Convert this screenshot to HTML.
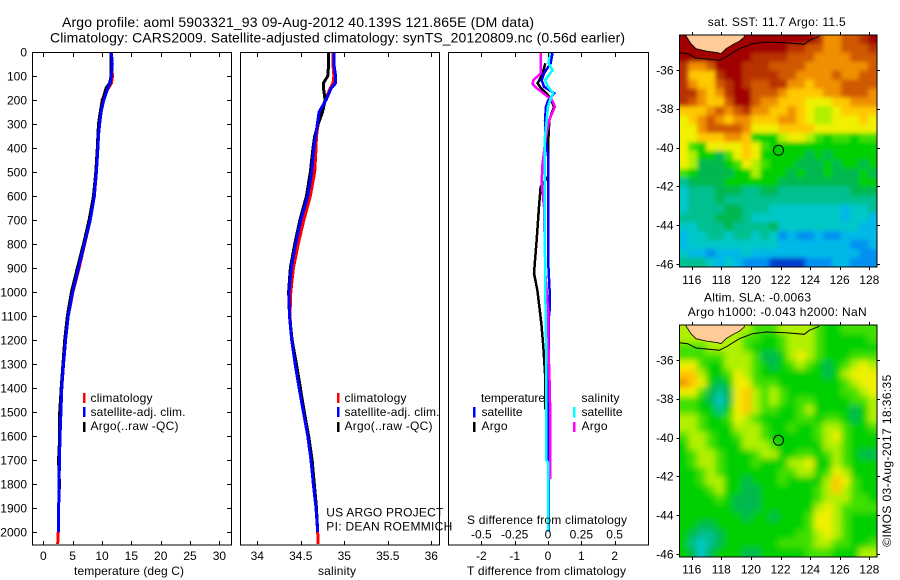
<!DOCTYPE html>
<html lang="en">
<head>
<meta charset="utf-8">
<title>Argo profile 5903321_93</title>
<style>
html,body{margin:0;padding:0;background:#fff;}
svg{display:block;}
text{font-family:"Liberation Sans",sans-serif;font-size:12px;fill:#000;}
</style>
</head>
<body>
<svg id="chart" xmlns="http://www.w3.org/2000/svg" width="900" height="580" viewBox="0 0 900 580">
<defs>
<clipPath id="clip-sst"><rect x="679.5" y="35" width="197.5" height="232"/></clipPath>
<clipPath id="clip-sla"><rect x="679.5" y="325" width="197.5" height="232"/></clipPath>
<filter id="soft-sst" filterUnits="userSpaceOnUse" x="640" y="0" width="260" height="300"><feGaussianBlur stdDeviation="2.2"/></filter>
<filter id="soft-sla" filterUnits="userSpaceOnUse" x="640" y="290" width="260" height="300"><feGaussianBlur stdDeviation="3.2"/></filter>
</defs>
<rect x="0" y="0" width="900" height="580" fill="#fff"/>

<text x="62" y="27" style="font-size:14px" textLength="472" lengthAdjust="spacing">Argo profile: aoml 5903321_93 09-Aug-2012 40.139S 121.865E (DM data)</text>
<text x="50" y="42.5" style="font-size:14px" textLength="575" lengthAdjust="spacing">Climatology: CARS2009. Satellite-adjusted climatology: synTS_20120809.nc (0.56d earlier)</text>

<g id="panels"></g>

<text x="74" y="575" textLength="110" lengthAdjust="spacing">temperature (deg C)</text>
<text x="318" y="575" textLength="38" lengthAdjust="spacing">salinity</text>
<text x="467" y="524" textLength="160" lengthAdjust="spacing">S difference from climatology</text>
<text x="467" y="575" textLength="159" lengthAdjust="spacing">T difference from climatology</text>

<g>
<rect x="83" y="393" width="2.5" height="10" fill="#ff0000"/>
<rect x="83" y="407" width="2.5" height="10" fill="#0000ff"/>
<rect x="83" y="422" width="2.5" height="10" fill="#000"/>
<text x="90.5" y="402" textLength="62" lengthAdjust="spacing">climatology</text>
<text x="90.5" y="416" textLength="95" lengthAdjust="spacing">satellite-adj. clim.</text>
<text x="90.5" y="430" textLength="88" lengthAdjust="spacing">Argo(..raw -QC)</text>
</g>
<g>
<rect x="337" y="393" width="2.5" height="10" fill="#ff0000"/>
<rect x="337" y="407" width="2.5" height="10" fill="#0000ff"/>
<rect x="337" y="422" width="2.5" height="10" fill="#000"/>
<text x="344.5" y="402" textLength="62" lengthAdjust="spacing">climatology</text>
<text x="344.5" y="416" textLength="95" lengthAdjust="spacing">satellite-adj. clim.</text>
<text x="344.5" y="430" textLength="88" lengthAdjust="spacing">Argo(..raw -QC)</text>
</g>
<g>
<text x="481" y="402" textLength="64" lengthAdjust="spacing">temperature</text>
<text x="581.5" y="402" textLength="38" lengthAdjust="spacing">salinity</text>
<rect x="473" y="407" width="2.5" height="10.5" fill="#0000ff"/>
<rect x="473" y="422" width="2.5" height="10" fill="#000"/>
<rect x="573" y="407" width="2.5" height="10.5" fill="#00ffff"/>
<rect x="573" y="422" width="2.5" height="10" fill="#ff00ff"/>
<text x="481.5" y="416" textLength="41" lengthAdjust="spacing">satellite</text>
<text x="481.5" y="430" textLength="26" lengthAdjust="spacing">Argo</text>
<text x="581.5" y="416" textLength="41" lengthAdjust="spacing">satellite</text>
<text x="581.5" y="430" textLength="26" lengthAdjust="spacing">Argo</text>
</g>
<text x="326.3" y="516.5" textLength="117" lengthAdjust="spacing">US ARGO PROJECT</text>
<text x="326.3" y="530.5" textLength="126" lengthAdjust="spacing">PI: DEAN ROEMMICH</text>

<g id="maps"></g>

<text x="707.7" y="26" textLength="138" lengthAdjust="spacing">sat. SST: 11.7 Argo: 11.5</text>
<text x="704" y="301.5" textLength="107" lengthAdjust="spacing">Altim. SLA: -0.0063</text>
<text x="687.7" y="316" textLength="179" lengthAdjust="spacing">Argo h1000: -0.043 h2000: NaN</text>
<text transform="translate(891 546.7) rotate(-90)" textLength="172" lengthAdjust="spacing">©IMOS 03-Aug-2017 18:36:35</text>
</svg>

<script>
// ---- profile data ----
const profileDepths = [0,50,100,130,150,200,250,300,350,400,500,600,700,800,900,1000,1100,1200,1300,1400,1500,1600,1700,1800,1900,2000,2050];
const tempClim = [11.6,11.6,11.8,11.6,11.1,10.0,9.8,9.6,9.4,9.3,9.05,8.7,8.0,7.05,6.1,5.05,4.25,3.8,3.45,3.15,3.0,2.85,2.75,2.68,2.62,2.55,2.45];
const tempSat = [11.6,11.75,11.6,11.4,11.0,10.3,9.85,9.6,9.4,9.3,9.05,8.7,8.0,7.0,6.0,5.0,4.25,3.8,3.45,3.15,3.0,2.85,2.75,2.68,2.62,2.55,null];
const tempArgo = [11.55,11.55,11.55,11.3,10.7,10.1,9.7,9.4,9.3,9.2,8.95,8.55,7.8,6.85,5.8,4.8,4.1,3.65,3.35,3.05,2.8,2.8,2.6,2.75,2.6,2.55,null];
const salClim = [34.87,34.87,34.88,34.87,34.84,34.78,34.73,34.70,34.68,34.675,34.66,34.61,34.535,34.47,34.415,34.385,34.375,34.395,34.435,34.48,34.53,34.58,34.617,34.644,34.675,34.694,34.70];
const salSat = [34.88,34.88,34.90,34.90,34.85,34.79,34.71,34.69,34.67,34.65,34.625,34.58,34.50,34.44,34.39,34.365,34.37,34.395,34.435,34.48,34.53,34.58,34.617,34.644,34.675,34.694,null];
const salArgo = [34.82,34.82,34.81,34.76,34.76,34.78,34.75,34.70,34.66,34.64,34.61,34.565,34.49,34.43,34.38,34.36,34.37,34.40,34.45,34.495,34.54,34.59,34.63,34.655,34.68,34.694,null];

const diffTDepths = [0,47,89,117,145,172,200,228,283,350,400,450,900,1000,1060,1100,1400,2000];
const diffTSat = [0.14,0.08,-0.12,-0.19,-0.12,0.19,0.01,-0.06,-0.09,-0.08,-0.03,0.015,0.015,0.05,0.06,0.03,0.0,0.03];
const diffArgoDepths = [47,89,130,145,172,190,228,283,367,520,561,645,783,922,992,1061,1131,1228,1339,1490];
const diffTArgo = [-0.08,-0.16,-0.31,-0.24,-0.05,0.06,0.18,0.04,0.01,0.0,-0.22,-0.27,-0.34,-0.42,-0.32,-0.26,-0.20,-0.14,-0.09,-0.08];
const diffSArgoDepths = [0,47,89,117,133,150,172,200,228,250,283,367,478,547,645,783,922,1089,1228,1339,1450,1780];
const diffSArgo = [-0.053,-0.053,-0.053,-0.11,-0.115,-0.085,-0.035,0.03,0.052,0.035,0.01,-0.02,-0.043,-0.047,-0.03,-0.025,-0.02,0.003,0.003,0.01,0.015,0.017];
const diffSSatDepths = [0,47,75,100,117,145,172,200,228,283,367,700,1000,1300,1700,1710,2000];
const diffSSat = [0.015,0.003,0.035,0.003,-0.022,0,0.04,0.015,0,-0.01,-0.025,-0.025,-0.02,-0.012,-0.012,0,0];

// ---- axis tick labels ----
const depthTicks = [0,100,200,300,400,500,600,700,800,900,1000,1100,1200,1300,1400,1500,1600,1700,1800,1900,2000];
const tempTicks = [0,5,10,15,20,25,30];
const salTicks = [34,34.5,35,35.5,36];
const diffTTicks = [-2,-1,0,1,2];
const diffSTicks = [-0.5,-0.25,0,0.25,0.5];
const lonTicks = [116,118,120,122,124,126,128];
const latTicks = [-36,-38,-40,-42,-44,-46];
const floatLon = [121.865];
const floatLat = [-40.139];

// ---- map cell values (colour-level index, north to south) ----
const sstLevels = [
[14,14,14,14,14,14,14,14,14,14,14,14,14,14,14,13,11,11,12,12,13,14],
[14,14,14,14,14,14,14,14,14,14,14,14,13,13,12,12,11,11,12,12,12,13],
[14,14,14,14,14,14,14,14,13,13,13,13,12,12,12,11,11,11,11,12,12,12],
[13,11,11,12,14,14,14,13,13,13,12,12,12,12,11,11,11,11,11,11,11,12],
[13,10,10,10,13,14,14,13,13,13,13,12,12,11,11,11,11,12,11,11,12,12],
[13,11,10,10,12,13,14,13,12,12,13,13,11,11,10,11,11,11,12,12,12,12],
[13,13,11,10,11,13,14,14,12,12,12,11,10,10,10,10,11,11,12,12,12,11],
[13,12,11,10,10,12,14,14,12,11,11,10,10,10,9,9,9,10,10,11,11,11],
[10,10,10,11,12,11,12,13,11,11,10,10,11,10,9,8,8,9,10,10,10,10],
[9,10,11,12,11,10,11,11,10,10,10,11,11,10,9,8,8,9,9,9,10,9],
[9,9,11,12,12,12,12,11,9,9,9,10,10,10,10,9,9,9,9,9,9,9],
[9,9,10,10,10,11,11,10,6,6,6,8,9,9,8,7,6,7,7,6,7,7],
[9,7,6,9,9,9,9,10,9,7,6,6,6,6,6,6,6,6,6,6,6,6],
[9,8,6,6,5,7,9,10,9,6,6,6,6,6,5,6,5,6,6,6,6,6],
[9,8,5,5,5,6,7,9,8,7,6,6,6,5,5,5,6,5,6,6,5,6],
[7,6,5,5,5,5,6,6,8,6,6,6,5,6,5,5,6,5,5,5,6,5],
[4,5,5,5,5,6,6,6,6,6,6,5,5,5,5,5,5,5,5,5,6,6],
[3,4,4,4,5,5,5,4,4,5,5,4,4,4,4,4,4,4,4,5,5,5],
[3,4,4,4,5,4,4,4,4,4,4,4,4,4,4,4,4,4,4,4,4,4],
[3,4,4,4,4,5,5,4,4,4,3,3,3,3,3,3,3,3,2,3,3,4],
[4,4,4,4,5,5,5,4,3,3,3,3,3,3,3,3,3,3,2,3,3,2],
[3,3,4,4,4,5,4,4,4,4,5,3,3,3,3,3,3,3,3,3,2,2],
[2,3,3,4,4,3,4,4,3,4,3,1,2,1,1,2,1,1,2,2,2,2],
[2,3,3,3,3,3,3,3,3,3,3,2,2,2,2,2,2,2,2,1,1,2],
[3,2,2,1,2,2,2,3,2,2,2,2,2,2,2,2,2,2,2,2,1,1],
[4,4,4,3,2,3,2,1,1,1,0,0,0,0,1,1,1,2,2,1,1,1]
];
const slaLevels = [
[8,8,8,8,8,8,8,8,7,7,7,8,8,8,8,7,6,6,7,7,7,7],
[8,8,8,8,8,8,8,7,7,6,6,7,8,8,8,7,6,6,6,6,6,7],
[7,7,7,8,8,8,8,7,6,6,6,7,8,8,8,7,6,6,6,6,6,6],
[7,7,7,7,7,8,8,8,7,5,5,6,8,9,8,7,6,6,6,7,7,7],
[9,9,7,6,6,8,8,8,7,6,5,6,7,8,7,6,5,6,7,8,9,8],
[10,10,8,6,6,7,9,8,7,6,6,6,6,6,6,6,5,6,8,9,9,9],
[11,10,9,6,5,6,9,9,7,7,7,6,6,6,6,6,6,6,7,8,9,9],
[9,9,7,5,4,5,9,10,8,7,8,7,6,6,6,6,6,6,7,7,8,9],
[7,7,6,5,3,5,9,10,8,7,8,7,6,7,7,6,6,6,6,7,7,8],
[7,7,6,6,4,6,9,10,8,7,7,6,6,7,8,6,6,6,6,5,6,8],
[8,8,7,6,6,7,9,8,7,6,6,6,6,7,7,6,7,7,6,5,6,8],
[8,8,7,6,6,6,8,8,8,7,6,6,7,6,6,7,8,8,7,6,6,7],
[7,8,8,7,6,6,7,8,8,7,6,6,6,6,6,7,8,9,7,6,6,6],
[6,8,8,7,6,6,6,8,8,8,7,6,6,6,6,6,8,8,7,6,6,6],
[6,7,8,8,7,6,6,6,7,8,8,6,6,7,7,6,7,8,7,6,5,5],
[6,7,8,8,7,6,6,6,7,6,6,6,8,8,9,6,6,8,7,6,6,6],
[6,6,7,8,7,6,6,6,6,6,6,7,7,8,8,6,7,9,8,6,6,6],
[6,6,7,8,8,6,6,5,6,6,6,7,6,6,6,6,8,10,9,7,6,6],
[6,6,6,7,8,6,6,5,5,6,6,6,6,6,6,7,8,10,8,7,6,6],
[6,6,6,6,7,6,5,5,5,6,6,6,6,6,6,7,8,8,8,7,7,6],
[6,6,6,6,6,6,5,5,5,6,6,6,6,6,6,8,9,8,7,7,7,7],
[6,6,6,6,6,6,6,5,6,6,5,6,6,6,7,9,9,8,7,6,6,6],
[6,6,5,5,6,6,6,6,6,6,6,6,6,6,7,9,9,8,7,6,6,6],
[6,5,4,4,5,6,6,6,6,6,6,6,6,7,7,8,9,8,7,6,6,6],
[6,4,3,4,5,6,6,6,6,6,6,7,7,7,7,8,8,7,7,6,6,7],
[6,5,3,5,6,6,6,5,5,6,6,6,6,6,7,7,7,6,6,6,8,8]
];
const levelColors = ['#0040d0','#0090f0','#00b8e8','#00c8c8','#00c090','#00b850','#00d000','#40e000','#b0f000','#f0f000','#ffc800','#f09000','#d05800','#b83000','#a00000'];

// ---- axis functions ----
const SVGNS = 'http://www.w3.org/2000/svg';
const depthY = d => 52 + d * 0.24;
const tempX = t => 43.3 + t * 5.87;
const salX = s => 257.3 + (s - 34) * 87;
const diffTX = t => 548 + t * 33.33;
const diffSX = s => 548 + s * 133.3;
const lonX = lon => 691.7 + (lon - 116) * 14.8;
const latY = (lat, off) => 70 + (-36 - lat) * 19.4 + off;

function make(tag, attrs, parent) {
  const el = document.createElementNS(SVGNS, tag);
  for (const k in attrs) el.setAttribute(k, attrs[k]);
  parent.appendChild(el);
  return el;
}
function label(str, x, y, anchor, parent) {
  const el = make('text', {x: x, y: y, 'text-anchor': anchor}, parent);
  el.textContent = str;
  return el;
}
function pathFrom(xs, ys) {
  const pts = [];
  xs.forEach((v, i) => { if (v !== null) pts.push(v + ',' + ys[i]); });
  return pts.join(' ');
}

const panels = document.getElementById('panels');
const maps = document.getElementById('maps');

// ---- profile panel series ----
function series(name, depths, values, xFn, color, width) {
  const xs = values.map(v => v === null ? null : xFn(v));
  const ys = depths.map(depthY);
  const line = make('polyline', {points: pathFrom(xs, ys), fill: 'none', stroke: color, 'stroke-width': width, 'stroke-linejoin': 'miter', 'shape-rendering': 'crispEdges'}, panels);
  
  
}
series('temperature-climatology-line', profileDepths, tempClim, tempX, '#ff0000', 3);
series('temperature-argo-line', profileDepths, tempArgo, tempX, '#000000', 3);
series('temperature-satellite-line', profileDepths, tempSat, tempX, '#0000ff', 3);
series('salinity-climatology-line', profileDepths, salClim, salX, '#ff0000', 3);
series('salinity-argo-line', profileDepths, salArgo, salX, '#000000', 3);
series('salinity-satellite-line', profileDepths, salSat, salX, '#0000ff', 3);
series('t-difference-argo-line', diffArgoDepths, diffTArgo, diffTX, '#000000', 2.5);
series('t-difference-satellite-line', diffTDepths, diffTSat, diffTX, '#0000ff', 2.5);
series('s-difference-argo-line', diffSArgoDepths, diffSArgo, diffSX, '#ff00ff', 2.5);
series('s-difference-satellite-line', diffSSatDepths, diffSSat, diffSX, '#00ffff', 2.5);

// ---- profile panel frames and ticks ----
function frame(name, x, y, w, h, parent) {
  const r = make('rect', {x: x, y: y, width: w, height: h, fill: 'none', stroke: '#000', 'stroke-width': 1, 'shape-rendering': 'crispEdges'}, parent);
  
  
}
function tick(x1, y1, x2, y2, parent) {
  const t = make('line', {x1: x1, y1: y1, x2: x2, y2: y2, stroke: '#000', 'stroke-width': 1, 'shape-rendering': 'crispEdges'}, parent);
  
  
}
frame('temperature-panel-frame', 32.5, 52.5, 199, 492.5, panels);
frame('salinity-panel-frame', 240.5, 52.5, 199, 492.5, panels);
frame('difference-panel-frame', 448.5, 52.5, 200, 492.5, panels);

depthTicks.forEach(d => {
  const y = Math.round(depthY(d)) + 0.5;
  tick(32.5, y, 37, y, panels);
  tick(227, y, 231.5, y, panels);
  const t = label(String(d), 27, depthY(d) + 4.5, 'end', panels);
  
  
});
tempTicks.forEach(v => {
  const x = Math.round(tempX(v)) + 0.5;
  tick(x, 52.5, x, 57, panels);
  tick(x, 541, x, 545, panels);
  const t = label(String(v), tempX(v), 560, 'middle', panels);
  
  
});
salTicks.forEach(v => {
  const x = Math.round(salX(v)) + 0.5;
  tick(x, 52.5, x, 57, panels);
  tick(x, 541, x, 545, panels);
  const t = label(String(v), salX(v), 560, 'middle', panels);
  
  
});
diffTTicks.forEach(v => {
  const x = Math.round(diffTX(v)) + 0.5;
  tick(x, 52.5, x, 57, panels);
  tick(x, 541, x, 545, panels);
  const t = label(String(v), diffTX(v), 560, 'middle', panels);
  
  
});
diffSTicks.forEach(v => {
  const t = label(String(v), diffSX(v), 538.7, 'middle', panels);
  
  
});

// ---- maps ----
const LON_W = 115.16, LON_E = 128.52, LAT_N = -34.2, LAT_S = -46.14;
const LAND = 'M686,35 L686,36 L691,43.7 L696,48.7 L706,51 L717.7,52.7 L721,53.7 L726,48.7 L734.3,43.7 L739.3,41.3 L744.3,37 L744.3,35 Z';
const COAST = 'M679.5,52.7 L687.7,53.7 L696,58 L709.3,59.3 L719.3,60.3 L726,57 L739.3,48.7 L752.7,43.7 L766,42 L786,42.7 L804.3,44.3 L809.3,40.3 L819.3,36.3';

function drawMap(name, levels, off, filterId, clipId) {
  const outer = make('g', {'clip-path': 'url(#' + clipId + ')'}, maps);
  
  
  const g = make('g', {filter: 'url(#' + filterId + ')'}, outer);
  const rows = levels.length, cols = levels[0].length;
  const dLon = (LON_E - LON_W) / cols, dLat = (LAT_N - LAT_S) / rows;
  levels.forEach((row, r) => {
    row.forEach((v, c) => {
      let x0 = lonX(LON_W + c * dLon), x1 = lonX(LON_W + (c + 1) * dLon);
      let y0 = latY(LAT_N - r * dLat, off), y1 = latY(LAT_N - (r + 1) * dLat, off);
      if (c === 0) x0 -= 12;
      if (c === cols - 1) x1 += 12;
      if (r === 0) y0 -= 12;
      if (r === rows - 1) y1 += 12;
      const cell = make('rect', {x: x0, y: y0, width: x1 - x0 + 0.5, height: y1 - y0 + 0.5, fill: levelColors[v]}, g);
      
      
    });
  });
  const shift = 'translate(0 ' + off + ')';
  const land = make('path', {d: LAND, fill: '#ffcc99', stroke: '#000', 'stroke-width': 0.8, transform: shift}, outer);
  
  
  const coast = make('path', {d: COAST, fill: 'none', stroke: '#000', 'stroke-width': 1, transform: shift}, outer);
  
  

  const frameTop = 35 + off, frameBottom = 267 + off;
  frame(name + '-frame', 679.5, frameTop, 197.5, 232, maps);
  lonTicks.forEach(lon => {
    const x = Math.round(lonX(lon)) + 0.5;
    tick(x, frameTop - 3, x, frameTop, maps);
    tick(x, frameBottom, x, frameBottom + 3, maps);
    const t = label(String(lon), lonX(lon), frameBottom + (off ? 16.7 : 17), 'middle', maps);
    
    
  });
  latTicks.forEach(lat => {
    const y = Math.round(latY(lat, off)) + 0.5;
    tick(676.5, y, 679.5, y, maps);
    tick(877, y, 880, y, maps);
    const t = label(String(lat), 673.5, latY(lat, off) + 4.3, 'end', maps);
    
    
  });
  floatLon.forEach((lon, i) => {
    const m = make('circle', {cx: lonX(lon), cy: latY(floatLat[i], off), r: 5, fill: 'none', stroke: '#000', 'stroke-width': 1}, maps);
    
    
  });
}
drawMap('sst-map', sstLevels, 0, 'soft-sst', 'clip-sst');
drawMap('sla-map', slaLevels, 290, 'soft-sla', 'clip-sla');
</script>
</body>
</html>
